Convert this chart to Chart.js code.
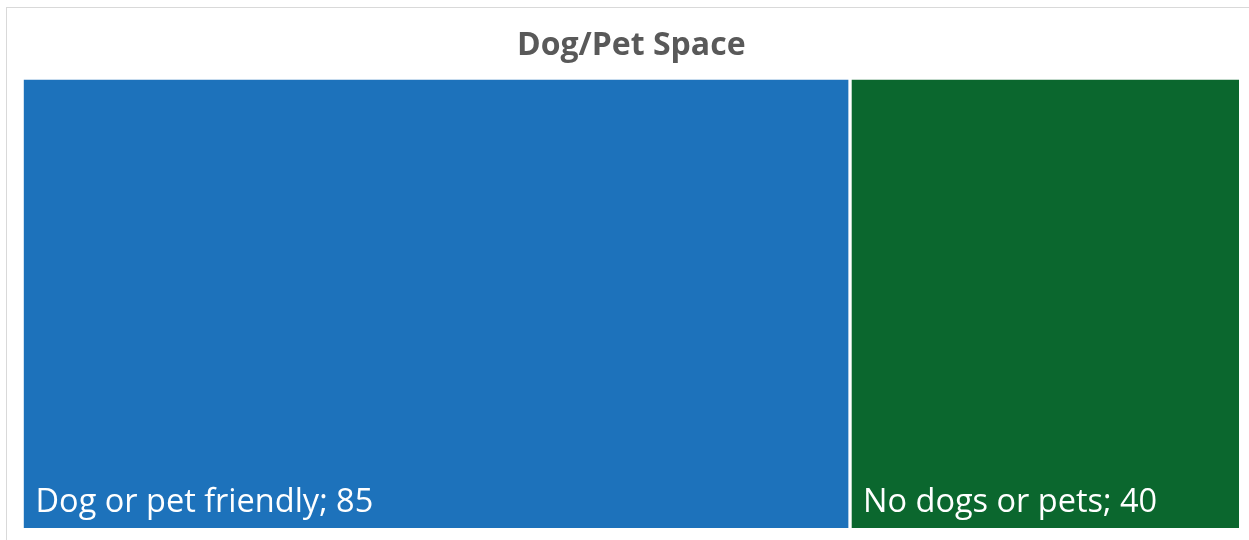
<!DOCTYPE html>
<html>
<head>
<meta charset="utf-8">
<script src="https://cdn.jsdelivr.net/npm/chart.js@4/dist/chart.umd.min.js"></script>
<style>
  html, body { margin: 0; padding: 0; background: #fff; overflow: hidden; }
  #frame { position: absolute; left: 6px; top: 7px; width: 1400px; height: 700px; border: 1px solid #d9d9d9; }
  #wrap { position: absolute; left: 0; top: 0; width: 1249px; height: 540px; }
</style>
</head>
<body>
<div id="frame"></div>
<div id="wrap"><canvas id="myChart"></canvas></div>
<script>
// treemap cells, left to right
const categories = ['Dog or pet friendly', 'No dogs or pets'];
const values = [85, 40];
const colors = ['#1D72BB', '#0B672E'];
const chartTitle = 'Dog/Pet Space';

const total = values.reduce((a, b) => a + b, 0);

// white gap between the cells
const datasets = categories.map((name, i) => ({
    label: name,
    data: [values[i]],
    backgroundColor: colors[i],
    borderColor: '#ffffff',
    borderSkipped: false,
    borderWidth: {
        left: i > 0 ? 2 : 0,
        right: i < categories.length - 1 ? 2 : 0,
        top: 0,
        bottom: 0
    }
}));

// label in the bottom left corner of every cell
const cellLabels = {
    id: 'cellLabels',
    afterDatasetsDraw(chart) {
        const ctx = chart.ctx;
        ctx.save();
        ctx.fillStyle = '#ffffff';
        ctx.font = '32.5px "Open Sans"';
        ctx.textAlign = 'left';
        ctx.textBaseline = 'alphabetic';
        chart.data.datasets.forEach((ds, i) => {
            const bar = chart.getDatasetMeta(i).data[0];
            const left = Math.min(bar.x, bar.base);
            const bottom = bar.y + bar.height / 2;
            ctx.fillText(`${ds.label}; ${ds.data[0]}`, left + 12 + (i > 0 ? 1 : 0), bottom - 16);
        });
        ctx.restore();
    }
};

const ctx = document.getElementById('myChart');

new Chart(ctx, {
    type: 'bar',
    data: {
        labels: [chartTitle],
        datasets: datasets
    },
    options: {
        indexAxis: 'y',
        responsive: true,
        maintainAspectRatio: false,
        animation: false,
        layout: {
            padding: { left: 23.5, right: 10, top: 0, bottom: 12 }
        },
        datasets: {
            bar: { categoryPercentage: 1, barPercentage: 1 }
        },
        scales: {
            x: { stacked: true, display: false, min: 0, max: total },
            y: { stacked: true, display: false }
        },
        plugins: {
            legend: { display: false },
            tooltip: { enabled: false },
            title: {
                display: true,
                text: chartTitle,
                color: '#595959',
                font: { family: '"Open Sans"', size: 32, weight: 'bold', lineHeight: 1.2 },
                padding: { top: 27, bottom: 14 }
            }
        }
    },
    plugins: [cellLabels]
});
</script>
</body>
</html>
